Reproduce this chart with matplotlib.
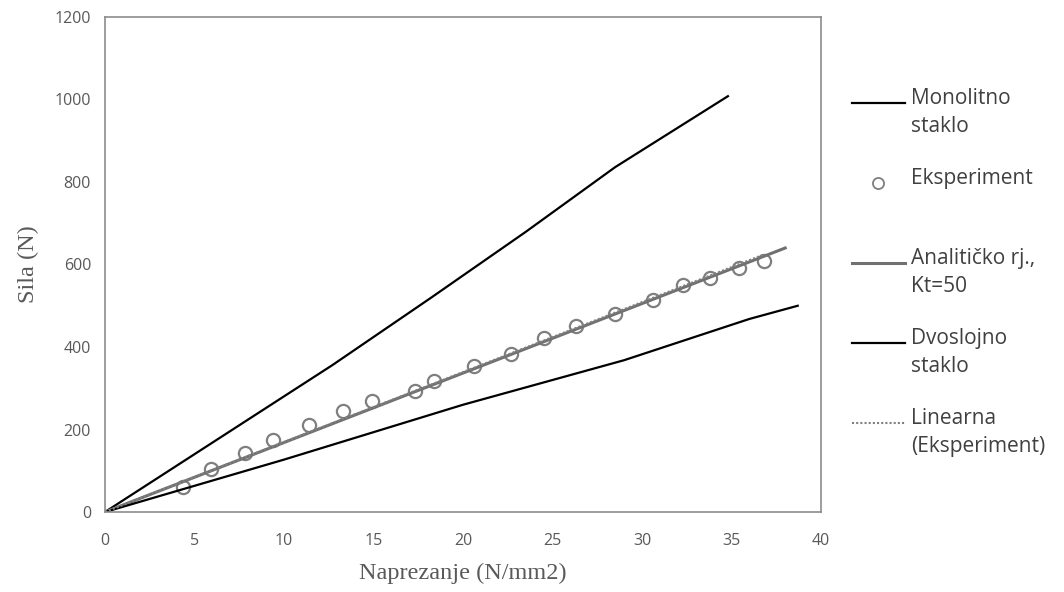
import matplotlib.pyplot as plt
from matplotlib.lines import Line2D
import numpy as np

# Monolitno staklo
mono_x = [0, 12.7, 18.2, 23.5, 28.5, 34.8]
mono_y = [0, 356, 519, 679, 836, 1008]

# Dvoslojno staklo
dvo_x = [0, 10, 20, 29, 36, 38.7]
dvo_y = [0, 127, 260, 368, 468, 500]

# Analiticko rj., Kt=50
ana_x = [0, 38.0]
ana_y = [0, 640]

# Eksperiment
exp_x = [4.36, 5.92, 7.82, 9.39, 11.4, 13.3, 14.9, 17.3, 18.4, 20.6,
         22.7, 24.5, 26.3, 28.5, 30.6, 32.3, 33.8, 35.4, 36.8]
exp_y = [61, 104, 143, 175, 211, 245, 269, 293, 318, 354,
         383, 422, 451, 480, 514, 550, 567, 591, 608]

x_ticks = [0, 5, 10, 15, 20, 25, 30, 35, 40]
y_ticks = [0, 200, 400, 600, 800, 1000, 1200]

# linear trend of the experiment, through the origin
ex = np.array(exp_x)
ey = np.array(exp_y)
k = (ex * ey).sum() / (ex * ex).sum()
trend_x = np.array([0, ex.max()])
trend_y = k * trend_x

fig = plt.figure(figsize=(10.64, 5.92), dpi=100)
ax = fig.add_axes([105/1064, 80/592, 716/1064, 495/592])

ax.plot(mono_x, mono_y, color='black', lw=1.6)
ax.plot(exp_x, exp_y, ls='none', marker='o', ms=9.5, mfc='none', mec='#7f7f7f', mew=1.6)
ax.plot(ana_x, ana_y, color='#707070', lw=2.2)
ax.plot(dvo_x, dvo_y, color='black', lw=1.6)
ax.plot(trend_x, trend_y, color='#808080', lw=1.5, ls=(0, (1, 1)))

ax.set_xlim(0, 40)
ax.set_ylim(0, 1200)
ax.set_xticks(x_ticks)
ax.set_yticks(y_ticks)
ax.tick_params(length=0, labelsize=11.5, labelcolor='#595959')
ax.tick_params(axis='x', pad=15)
ax.tick_params(axis='y', pad=10)
for lab in ax.get_xticklabels() + ax.get_yticklabels():
    lab.set_family('Open Sans')
for s in ax.spines.values():
    s.set_color('#8c8c8c')
    s.set_linewidth(1.2)

ax.set_xlabel('Naprezanje (N/mm2)', family='Liberation Serif', fontsize=17.5, color='#595959', labelpad=10)
ax.set_ylabel('Sila (N)', family='Liberation Serif', fontsize=17.5, color='#595959', labelpad=11)

# legend drawn by hand so the handle sits on the first text line
entries = [
    ('Monolitno\nstaklo', dict(color='black', lw=1.6)),
    ('Eksperiment', dict(ls='none', marker='o', ms=8, mfc='none', mec='#7f7f7f', mew=1.3)),
    ('Analitičko rj.,\nKt=50', dict(color='#707070', lw=2.2)),
    ('Dvoslojno\nstaklo', dict(color='black', lw=1.6)),
    ('Linearna\n(Eksperiment)', dict(color='#808080', lw=1.5, ls=(0, (1, 1)))),
]
W, H = 1064, 592
for i, (label, style) in enumerate(entries):
    yp = 103 + i * 80
    yf = 1 - yp / H
    if style.get('marker'):
        fig.add_artist(Line2D([878/W], [yf], transform=fig.transFigure, **style))
    else:
        fig.add_artist(Line2D([852/W, 905/W], [yf, yf], transform=fig.transFigure, **style))
    fig.text(911/W, 1 - (yp - 15) / H, label, family='Open Sans', fontsize=15,
             color='#404040', va='top', ha='left', linespacing=1.45,
             transform=fig.transFigure)

fig.savefig('out.png', dpi=100)
